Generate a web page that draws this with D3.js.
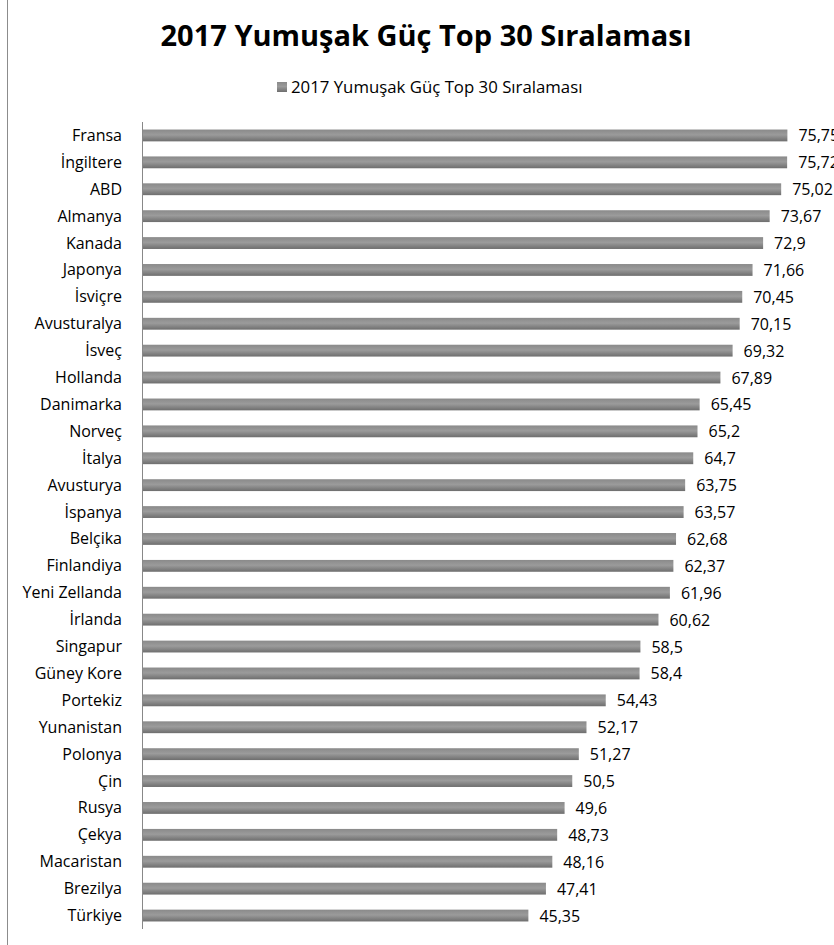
<!DOCTYPE html>
<html>
<head>
<meta charset="utf-8">
<script src="https://cdn.jsdelivr.net/npm/d3@7"></script>
<style>
  body { margin: 0; background: #fff; }
  svg { display: block; font-family: "Open Sans", "Noto Sans", sans-serif; }
</style>
</head>
<body>
<div id="chart"></div>
<script>
// data
const countries = ["Fransa", "İngiltere", "ABD", "Almanya", "Kanada", "Japonya", "İsviçre",
  "Avusturalya", "İsveç", "Hollanda", "Danimarka", "Norveç", "İtalya", "Avusturya", "İspanya",
  "Belçika", "Finlandiya", "Yeni Zellanda", "İrlanda", "Singapur", "Güney Kore", "Portekiz",
  "Yunanistan", "Polonya", "Çin", "Rusya", "Çekya", "Macaristan", "Brezilya", "Türkiye"];
const scores = [75.75, 75.72, 75.02, 73.67, 72.9, 71.66, 70.45, 70.15, 69.32, 67.89, 65.45,
  65.2, 64.7, 63.75, 63.57, 62.68, 62.37, 61.96, 60.62, 58.5, 58.4, 54.43, 52.17, 51.27,
  50.5, 49.6, 48.73, 48.16, 47.41, 45.35];
const scoreLabels = ["75,75", "75,72", "75,02", "73,67", "72,9", "71,66", "70,45", "70,15",
  "69,32", "67,89", "65,45", "65,2", "64,7", "63,75", "63,57", "62,68", "62,37", "61,96",
  "60,62", "58,5", "58,4", "54,43", "52,17", "51,27", "50,5", "49,6", "48,73", "48,16",
  "47,41", "45,35"];
const title = "2017 Yumuşak Güç Top 30 Sıralaması";

const width = 834, height = 945;
const margin = { top: 122, left: 142, bottom: 16 };

const svg = d3.select("#chart").append("svg")
  .attr("width", width)
  .attr("height", height);

// chart frame (only the left edge shows)
svg.append("line")
  .attr("x1", 7.5).attr("x2", 7.5)
  .attr("y1", 0).attr("y2", height)
  .attr("stroke", "#8c8c8c").attr("stroke-width", 1);

const grad = svg.append("defs").append("linearGradient")
  .attr("id", "barGrad")
  .attr("x1", 0).attr("y1", 0).attr("x2", 0).attr("y2", 1);
grad.append("stop").attr("offset", "0%").attr("stop-color", "#8a8a8a");
grad.append("stop").attr("offset", "45%").attr("stop-color", "#9b9b9b");
grad.append("stop").attr("offset", "100%").attr("stop-color", "#6e6e6e");

// title
svg.append("text")
  .attr("x", 426).attr("y", 46)
  .attr("text-anchor", "middle")
  .style("font-size", "29px")
  .style("font-weight", "bold")
  .text(title);

// legend
const legend = svg.append("g").attr("transform", "translate(277,82)");
legend.append("rect")
  .attr("width", 10).attr("height", 10)
  .attr("fill", "url(#barGrad)");
legend.append("text")
  .attr("x", 14).attr("y", 11)
  .style("font-size", "16.8px")
  .text(title);

const x = d3.scaleLinear()
  .domain([0, 80])
  .range([margin.left, margin.left + 80 * 8.52]);

const y = d3.scaleBand()
  .domain(countries)
  .range([margin.top, 929])
  .paddingInner(0.56)
  .paddingOuter(0.28);

// category axis
const yAxis = svg.append("g")
  .attr("transform", "translate(" + margin.left + ",0)")
  .call(d3.axisLeft(y).tickSize(0).tickPadding(20));
yAxis.select(".domain").attr("stroke", "#888").attr("d", "M0.5," + margin.top + "V929");
yAxis.selectAll("text")
  .attr("dy", null)
  .attr("y", 5.5)
  .style("font-size", "16px")
  .style("font-family", "'Open Sans', 'Noto Sans', sans-serif")
  .attr("fill", "#000");

// bars
svg.selectAll(".bar")
  .data(countries)
  .enter()
  .append("rect")
  .attr("class", "bar")
  .attr("x", x(0) + 1)
  .attr("y", function (d) { return y(d); })
  .attr("width", function (d, i) { return x(scores[i]) - x(0) - 1; })
  .attr("height", y.bandwidth())
  .attr("fill", "url(#barGrad)");

// value labels (the two longest run past the right edge, as in the original)
svg.selectAll(".val")
  .data(countries)
  .enter()
  .append("text")
  .attr("class", "val")
  .attr("x", function (d, i) { return x(scores[i]) + 11; })
  .attr("y", function (d) { return y(d) + y.bandwidth() / 2 + 6; })
  .style("font-size", "16px")
  .text(function (d, i) { return scoreLabels[i]; });
</script>
</body>
</html>
